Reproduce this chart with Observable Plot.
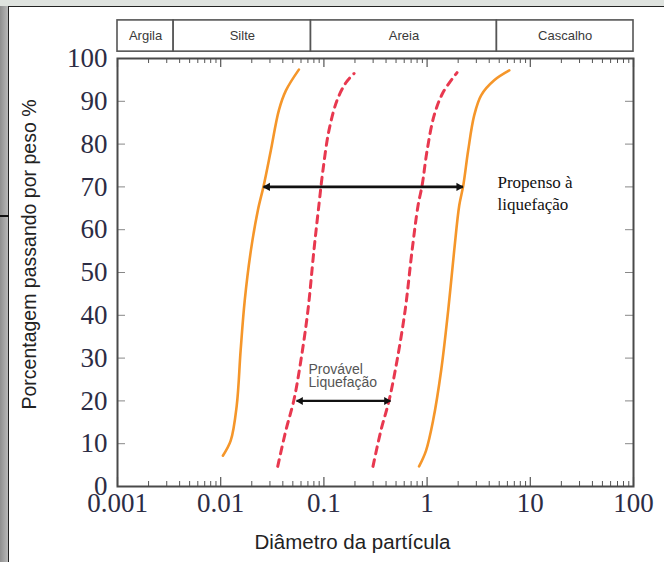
<!DOCTYPE html>
<html><head><meta charset="utf-8">
<script src="https://cdn.jsdelivr.net/npm/d3@7"></script>
<script src="https://cdn.jsdelivr.net/npm/@observablehq/plot@0.6"></script>
<style>
html,body{margin:0;padding:0;}
body{width:664px;height:562px;position:relative;overflow:hidden;background:#dfe3df;}
#leftstrip{position:absolute;left:0;top:6px;width:8px;height:556px;background:linear-gradient(to right,#8f8f8f,#b9b9b9);}
#panel{position:absolute;left:8px;top:6px;right:0;bottom:0;background:#fff;border-top:1.5px solid #222;border-left:1.5px solid #222;}
#mark{position:absolute;left:0;top:215px;width:9px;height:2px;background:#111;}
#chart{position:absolute;left:0;top:0;}
</style></head>
<body>
<div id="leftstrip"></div><div id="panel"></div><div id="mark"></div>
<div id="chart"></div>
<script>
// ---- data ----
const xTicks = [0.001, 0.01, 0.1, 1, 10, 100];
const xTickLabels = ["0.001", "0.01", "0.1", "1", "10", "100"];
const yTicks = [0, 10, 20, 30, 40, 50, 60, 70, 80, 90, 100];
const bandNames = ["Argila", "Silte", "Areia", "Cascalho"];
const bandLimits = [0.001, 0.0035, 0.075, 4.75, 100];

// orange solid (limits "propenso à liquefação")
const fineLimitX = [0.0105, 0.0125, 0.0143, 0.0156, 0.0171, 0.0196, 0.0229, 0.0261, 0.0306, 0.0366, 0.0428, 0.0572];
const fineLimitY = [7.2, 10.7, 18.9, 31.8, 43.5, 55.1, 64.5, 70.3, 78.5, 87.9, 92.5, 97.4];
const coarseLimitX = [0.836, 0.977, 1.143, 1.368, 1.60, 1.83, 2.05, 2.24, 2.50, 2.86, 3.34, 4.47, 6.26];
const coarseLimitY = [4.7, 8.4, 15.4, 27.1, 41.1, 55.1, 65.7, 70.3, 78.5, 86.7, 91.4, 94.9, 97.2];
// red dashed (limits "provável liquefação")
const fineProbX = [0.0357, 0.0428, 0.0511, 0.0598, 0.070, 0.080, 0.0894, 0.0978, 0.112, 0.134, 0.164, 0.196];
const fineProbY = [4.7, 13.1, 20.1, 29.4, 41.1, 55.1, 65.7, 73.8, 83.2, 90.2, 94.4, 96.5];
const coarseProbX = [0.299, 0.357, 0.428, 0.511, 0.612, 0.715, 0.818, 0.894, 1.0, 1.17, 1.43, 1.95];
const coarseProbY = [4.7, 13.1, 20.1, 29.4, 41.1, 55.1, 65.7, 70.3, 78.5, 86.7, 92.1, 96.7];

// range arrows
const arrowX1 = [0.026, 0.0543];
const arrowX2 = [2.22, 0.442];
const arrowY = [70, 20];

const xTitle = "Diâmetro da partícula";
const yTitle = "Porcentagem passando por peso %";
const noteWide = "Propenso à\nliquefação";
const noteNarrow = "Provável\nLiquefação";

// ---- helpers ----
const pts = (xs, ys) => xs.map((x, i) => ({x, y: ys[i]}));
const decades = xTicks.slice(0, -1);
const minorTicks = decades.flatMap(d => [2,3,4,5,6,7,8,9].map(k => k * d));
const innerTicksY = yTicks.slice(1, -1);
const arrows = arrowX1.map((x1, i) => ({x1, x2: arrowX2[i], y: arrowY[i], i}));

const W = 664, H = 562, mL = 117, mR = 31, mT = 58, mB = 76;
const pw = W - mL - mR, ph = H - mT - mB;

const orange = "#f5962a", red = "#e8384f", ink = "#2c2c44";

const chart = Plot.plot({
  width: W, height: H,
  marginLeft: mL, marginRight: mR, marginTop: mT, marginBottom: mB,
  style: {background: "transparent", overflow: "visible", fontFamily: "Liberation Sans"},
  x: {type: "log", domain: [0.001, 100], axis: null},
  y: {domain: [0, 100], axis: null},
  marks: [
    // soil class band above plot
    Plot.rect(bandNames, {x1: (d, i) => bandLimits[i], x2: (d, i) => bandLimits[i + 1], y1: 101.6, y2: 108.9,
      fill: "white", stroke: "#555", strokeWidth: 1.6}),
    Plot.text(bandNames, {x: (d, i) => Math.sqrt(bandLimits[i] * bandLimits[i + 1]), y: 105.2, text: d => d,
      fontSize: 13, fill: "#3a3a3a", fontFamily: "Liberation Sans"}),
    // ticks
    Plot.tickX(minorTicks, {x: d => d, insetTop: ph - 5, stroke: "#555", strokeWidth: 1}),
    Plot.tickX(xTicks, {x: d => d, insetTop: ph - 9, stroke: "#555", strokeWidth: 1.2}),
    Plot.tickX(minorTicks, {x: d => d, insetBottom: ph - 5, stroke: "#555", strokeWidth: 1}),
    Plot.tickX(xTicks, {x: d => d, insetBottom: ph - 9, stroke: "#555", strokeWidth: 1.2}),
    Plot.tickY(innerTicksY, {y: d => d, insetRight: pw - 8, stroke: "#888", strokeWidth: 1}),
    Plot.tickY(innerTicksY, {y: d => d, insetLeft: pw - 8, stroke: "#888", strokeWidth: 1}),
    Plot.frame({stroke: "#4a4a4a", strokeWidth: 2}),
    // tick labels
    Plot.text(yTicks, {y: d => d, text: d => String(d), frameAnchor: "left", textAnchor: "end", dx: -10,
      fontSize: 27, fontFamily: "Liberation Serif", fill: ink}),
    Plot.text(xTicks, {x: d => d, text: (d, i) => xTickLabels[i], frameAnchor: "bottom", lineAnchor: "top", dy: 6,
      fontSize: 27, fontFamily: "Liberation Serif", fill: ink}),
    // titles
    Plot.text([yTitle], {x: 0.00014, y: 54.2, text: d => d, rotate: -90,
      fontSize: 19.5, fill: "#222", fontFamily: "Liberation Sans"}),
    Plot.text([xTitle], {text: d => d, frameAnchor: "bottom", dx: -23, dy: 62,
      fontSize: 20.5, fill: "#222", fontFamily: "Liberation Sans"}),
    // curves
    Plot.line(pts(fineLimitX, fineLimitY), {x: "x", y: "y", stroke: orange, strokeWidth: 2.6, curve: "catmull-rom"}),
    Plot.line(pts(coarseLimitX, coarseLimitY), {x: "x", y: "y", stroke: orange, strokeWidth: 2.6, curve: "catmull-rom"}),
    Plot.line(pts(fineProbX, fineProbY), {x: "x", y: "y", stroke: red, strokeWidth: 3, strokeDasharray: "7,6", curve: "catmull-rom"}),
    Plot.line(pts(coarseProbX, coarseProbY), {x: "x", y: "y", stroke: red, strokeWidth: 3, strokeDasharray: "7,6", curve: "catmull-rom"}),
    // arrows
    Plot.link(arrows, {x1: "x1", x2: "x2", y1: "y", y2: "y", stroke: "#111", strokeWidth: d => d.i === 0 ? 2.6 : 2.2}),
    Plot.dot(arrows, {x: "x1", y: "y", symbol: "triangle", rotate: -90, r: d => d.i === 0 ? 3.6 : 3.2, dx: 4, fill: "#111", stroke: "none"}),
    Plot.dot(arrows, {x: "x2", y: "y", symbol: "triangle", rotate: 90, r: d => d.i === 0 ? 3.6 : 3.2, dx: -4, fill: "#111", stroke: "none"}),
    // notes
    Plot.text([noteWide], {x: 4.81, y: 68.9, text: d => d, textAnchor: "start", lineHeight: 1.3,
      fontSize: 17, fill: "#111", fontFamily: "Liberation Serif"}),
    Plot.text([noteNarrow], {x: 0.0709, y: 25.7, text: d => d, textAnchor: "start", lineHeight: 0.95,
      fontSize: 14, fill: "#555", fontFamily: "Liberation Sans"})
  ]
});
document.getElementById("chart").appendChild(chart);
</script>
</body></html>
